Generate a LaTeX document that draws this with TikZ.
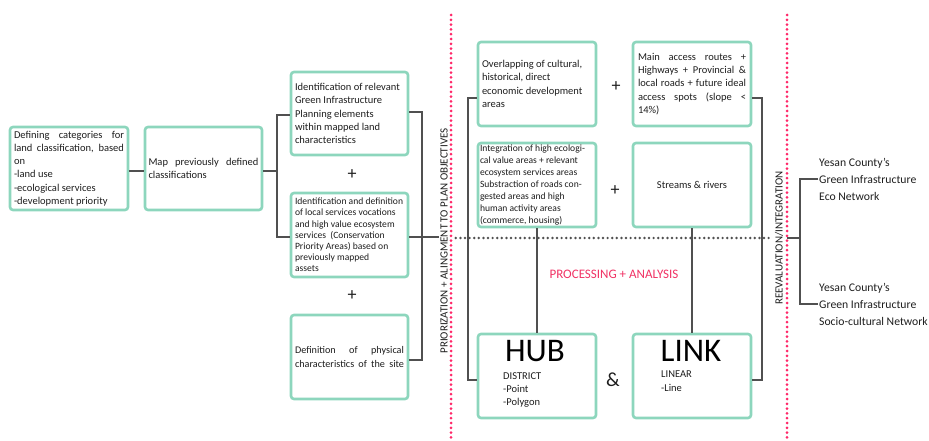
\documentclass[tikz,border=0pt]{standalone}
\usepackage{fontspec}
\setmainfont{Carlito}
\definecolor{mint}{RGB}{141,214,189}
\definecolor{pinkred}{RGB}{255,40,105}
\definecolor{ptext}{RGB}{240,50,100}
\definecolor{conn}{RGB}{80,80,80}
\definecolor{txt}{RGB}{30,30,30}
\newcommand\Jline[2]{\hbox to #1{\spaceskip=.226em plus 1fil\relax #2}}
\newcommand\Lline[2]{\hbox to #1{#2\hfil}}
\tikzset{
  gbox/.style={draw=mint, line width=2.6pt, rounded corners=3pt, fill=white, inner sep=0pt, text=txt, align=left},
  b105/.style={font=\fontsize{10.5}{13.3}\selectfont},
  b102/.style={font=\fontsize{10.2}{13.5}\selectfont},
  b96/.style={font=\fontsize{9.6}{11.2}\selectfont},
  b96b/.style={font=\fontsize{9.6}{11.9}\selectfont},
  link/.style={draw=conn, line width=1.4pt},
  pinkdots/.style={draw=pinkred, line width=3pt, line cap=round, dash pattern=on 0pt off 4.8pt},
  graydots/.style={draw=conn, line width=2.7pt, line cap=round, dash pattern=on 0pt off 4.6pt},
  plus/.style={font=\fontsize{18}{18}\selectfont, text=txt, inner sep=0pt},
  rot/.style={rotate=90, font=\fontsize{11}{12}\selectfont, text=txt, inner sep=1pt},
  outtxt/.style={font=\fontsize{11.7}{17}\selectfont, text=txt, align=left, anchor=west, inner sep=1pt},
}
\begin{document}
\begin{tikzpicture}[x=1pt, y=-1pt]
\useasboundingbox (0,0) rectangle (929,441);

% pink dotted separators
\draw[pinkdots] (451,15) -- (451,441);
\draw[pinkdots] (787,15) -- (787,438);

% left column boxes
\node[gbox, b105, minimum width=118pt, minimum height=83pt] (b1) at (69,168.5)
 {\Jline{110pt}{Defining categories for}\\\Jline{110pt}{land classification, based}\\on\\-land use\\-ecological services\\-development priority};
\node[gbox, b105, minimum width=117pt, minimum height=83pt] (b2) at (203.5,168.5)
 {\Jline{110pt}{Map previously defined}\\classifications};

\node[gbox, b105, minimum width=117pt, minimum height=83pt] (b3) at (349.5,113.5)
 {\Lline{109pt}{Identification of relevant}\\Green Infrastructure\\Planning elements\\within mapped land\\characteristics};
\node[gbox, b96, minimum width=117pt, minimum height=84pt] (b4) at (349.5,235)
 {\Lline{109pt}{Identification and definition}\\of local services vocations\\and high value ecosystem\\services~ (Conservation\\Priority Areas) based on\\previously mapped\\assets};
\node[gbox, b102, minimum width=117pt, minimum height=84pt] (b5) at (349.5,357)
 {\Jline{109pt}{Definition of physical}\\\Jline{109pt}{characteristics of the site}};

\node[plus] (p1) at (352,175) {+};
\node[plus] (p2) at (352,296) {+};

% rotated labels
\node[rot] (prio) at (444,241) {PRIORIZATION + ALINGMENT TO PLAN OBJECTIVES};
\node[rot] (reev) at (779,238) {REEVALUATION/INTEGRATION};

% right group boxes
\node[gbox, b105, minimum width=118pt, minimum height=84pt] (b6) at (537,84)
 {\Lline{110pt}{Overlapping of cultural,}\\historical, direct\\economic development\\areas};
\node[gbox, b105, minimum width=118pt, minimum height=84pt] (b7) at (692,84)
 {\Jline{108pt}{Main access routes +}\\\Jline{108pt}{Highways + Provincial \&}\\\Jline{108pt}{local roads + future ideal}\\\Jline{108pt}{access spots (slope <}\\14\%)};
\node[gbox, b96b, minimum width=118pt, minimum height=84pt] (b8) at (537,185)
 {\Lline{114pt}{Integration of high ecologi-}\\cal value areas + relevant\\ecosystem services areas\\Substraction of roads con-\\gested areas and high\\human activity areas\\(commerce, housing)};
\node[gbox, b105, align=center, minimum width=118pt, minimum height=84pt] (b9) at (692,185)
 {Streams \& rivers};

\node[plus] (p3) at (616,87) {+};
\node[plus] (p4) at (615,191) {+};

\node[gbox, minimum width=118pt, minimum height=84pt] (hub) at (537,376) {};
\node[gbox, minimum width=118pt, minimum height=84pt] (lnk) at (692,376) {};
\node[font=\fontsize{33}{33}\selectfont, text=black, inner sep=0pt] (hubt) at (535,351) {HUB};
\node[font=\fontsize{33}{33}\selectfont, text=black, inner sep=0pt] (lnkt) at (691,351) {LINK};
\node[b105, text=txt, align=left, anchor=north west, inner sep=0pt] (hubd) at (503,372) {DISTRICT\\-Point\\-Polygon};
\node[b105, text=txt, align=left, anchor=north west, inner sep=0pt] (lnkd) at (661,371) {LINEAR\\-Line};
\node[font=\fontsize{20}{20}\selectfont, text=txt, inner sep=0pt] (amp) at (613,380) {\&};

\node[font=\fontsize{13}{13}\selectfont, text=ptext, inner sep=0pt] (proc) at (614,274) {PROCESSING + ANALYSIS};

% outputs
\node[outtxt] (o1) at (818,179) {Yesan County’s\\Green Infrastructure\\Eco Network};
\node[outtxt] (o2) at (818,304) {Yesan County’s\\Green Infrastructure\\Socio-cultural Network};

% junction coordinates
\coordinate (j1) at (277,171);
\coordinate (j2) at (422,237);
\coordinate (j4) at (468,238);
\coordinate (j5) at (762,238);
\coordinate (j3) at (800,238);

% connectors
\draw[link] ([yshift=-2.5pt]b1.east) -- ([yshift=-2.5pt]b2.west);
\draw[link] ([yshift=-2.5pt]b2.east) -- (j1);
\draw[link] ([yshift=-1.5pt]b3.west) -| (j1) |- ([yshift=-2pt]b4.west);
\draw[link] ([yshift=1.5pt]b3.east) -| (j2) |- ([yshift=-3pt]b5.east);
\draw[link] ([yshift=-2pt]b4.east) -- (prio.north |- j2);
\draw[link] ([yshift=-14pt]b6.west) -| (j4) |- ([yshift=-4pt]hub.west);
\draw[link] ([yshift=-14pt]b7.east) -| (j5) |- ([yshift=-4pt]lnk.east);
\draw[link] (b8) -- (hub);
\draw[link] (b9) -- (lnk);
\draw[graydots] ([xshift=7pt]prio.south |- j4) -- ([xshift=-4pt]reev.north |- j4);
\draw[link] ([xshift=3pt]reev.south |- j3) -- (j3);
\draw[link] (o1.west) -| (j3) |- (o2.west);
\end{tikzpicture}
\end{document}
